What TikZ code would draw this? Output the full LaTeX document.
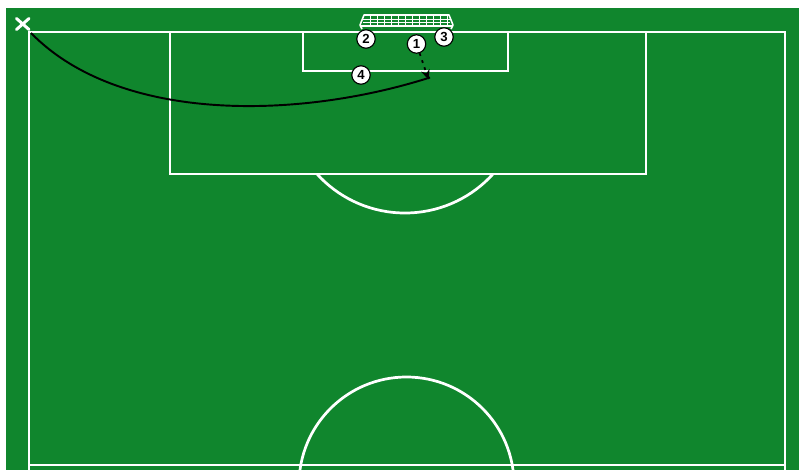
\documentclass[tikz,border=0pt]{standalone}
\usepackage{fontspec}
\setmainfont{Liberation Sans}
\usetikzlibrary{arrows.meta}
\definecolor{pitch}{RGB}{16,134,45}
\tikzset{
 pline/.style={draw=white,line width=1.55pt},
 netline/.style={draw=white,line width=0.4pt},
 player/.style={circle,draw=black,line width=0.65pt,fill=white,inner sep=0pt,minimum size=10.5pt,font=\bfseries\fontsize{7.5}{8}\selectfont},
 run/.style={draw=black,line width=1.1pt},
 pass/.style={draw=black,line width=1pt,dash pattern=on 1.6pt off 2.6pt}
}
\begin{document}
\begin{tikzpicture}[x=0.02cm,y=-0.02cm]
\useasboundingbox (0,0) rectangle (799,470);
\fill[white] (0,0) rectangle (799,470);
\fill[pitch] (6,8) rectangle (799,470);
\begin{scope}
\clip (6,8) rectangle (799,470);
\draw[pline] (29,470) -- (29,32) -- (785,32) -- (785,470);
\draw[pline] (29,465) -- (785,465);
\draw[pline] (170,32) -- (170,174) -- (646,174) -- (646,32);
\draw[pline] (303,32) -- (303,71) -- (508,71) -- (508,32);
\begin{scope}
\clip (200,174) rectangle (600,230);
\draw[pline] (405,94.2) circle [radius=118.8];
\end{scope}
\draw[pline] (406.5,484.5) circle [radius=107.5];
\end{scope}
% goal net
\foreach \xx in {370,377,...,447}{
 \draw[netline] (\xx,15) -- (\xx,26);
}
\foreach \yy in {19,22.5}{
 \draw[netline] (363,\yy) -- (450,\yy);
}
\draw[draw=white,line width=0.9pt,line join=round] (362,29) -- (360,25) -- (364,15) -- (449,15) -- (453,25) -- (451,29);
\draw[draw=white,line width=0.8pt] (360,26) -- (453,26);
% marker
\draw[draw=white,line width=1.7pt,line cap=round] (16.5,18.5) -- (29,29.5) (16.5,29.5) -- (29,18.5);
% players
\node[player] (p1) at (416.5,44) {1};
\node[player] (p2) at (366,39) {2};
\node[player] (p3) at (444,37) {3};
\node[player] (p4) at (361,75) {4};
\coordinate (start) at (31,33);
\coordinate (target) at (430,77.5);
\coordinate (tip) at (428.5,79.5);
\draw[run] (start) .. controls (120,124) and (300,119) .. (target);
\draw[pass,-{Stealth[length=5.5pt,width=5pt,sep=0pt]}] (p1) -- (tip);
\end{tikzpicture}
\end{document}
